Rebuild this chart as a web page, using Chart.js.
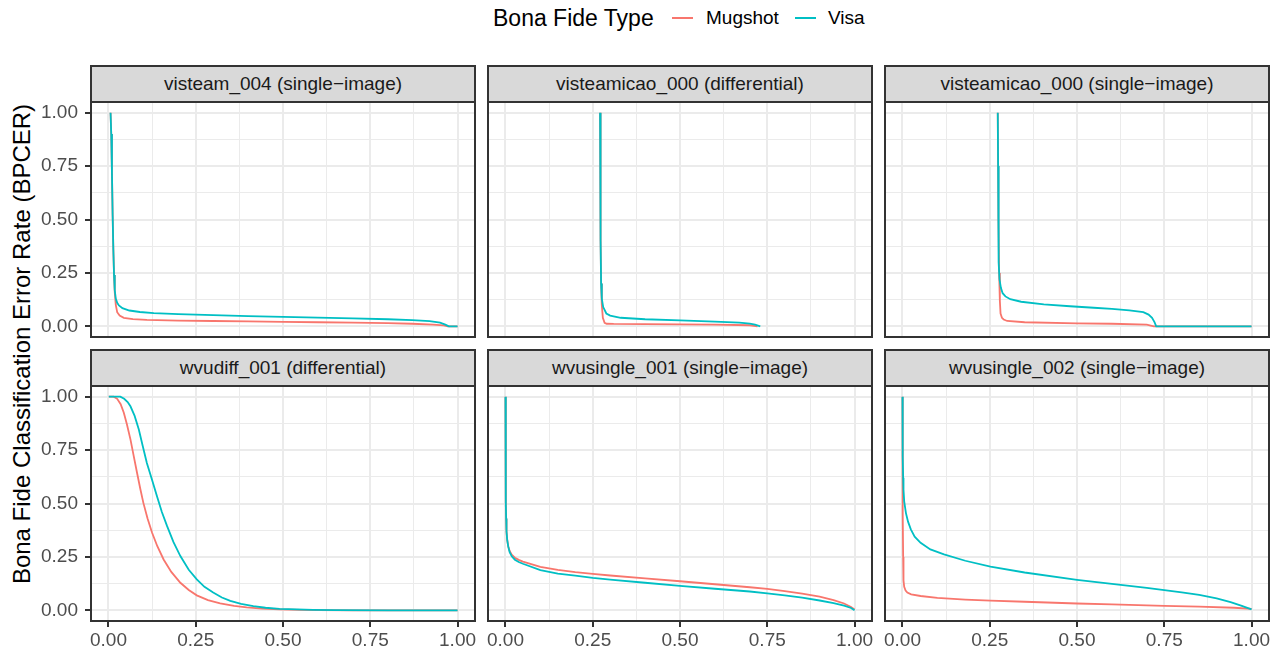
<!DOCTYPE html>
<html lang="en">
<head>
<meta charset="UTF-8">
<title>BPCER by bona fide type</title>
<script src="https://cdn.jsdelivr.net/npm/chart.js@4"></script>
<style>
  html, body { margin: 0; padding: 0; overflow: hidden; background: #ffffff; }
  body { font-family: 'Liberation Sans', Arial, sans-serif; }
  #page { position: relative; width: 1282px; height: 654px; overflow: hidden; }
  .strip {
    position: absolute;
    box-sizing: border-box;
    background: #d9d9d9;
    border: 2px solid #333333;
    color: #1a1a1a;
    font-size: 19px;
    line-height: 34px;
    text-align: center;
    white-space: nowrap;
  }
  .panel { position: absolute; }
  .legend-text { position: absolute; top: 4px; line-height: 28px; color: #000000; white-space: nowrap; }
  .legend-key { position: absolute; top: 17px; width: 21px; height: 2px; }
  #ytitle {
    position: absolute;
    left: -278px; top: 329px;
    width: 600px; height: 30px; line-height: 30px;
    text-align: center;
    font-size: 24px;
    color: #000000;
    transform: rotate(-90deg);
    white-space: nowrap;
  }
</style>
</head>
<body>
<div id="page">
  <span class="legend-text" style="left:493px; font-size:23px;">Bona Fide Type</span>
  <div class="legend-key" style="left:672px; background:#F8766D;"></div>
  <span class="legend-text" style="left:706px; font-size:19px;">Mugshot</span>
  <div class="legend-key" style="left:795px; background:#00BFC4;"></div>
  <span class="legend-text" style="left:828px; font-size:19px;">Visa</span>
  <div id="ytitle">Bona Fide Classification Error Rate (BPCER)</div>
</div>
<script>
// facet titles, row by row
const panelTitles = [
  'visteam_004 (single\u2212image)',
  'visteamicao_000 (differential)',
  'visteamicao_000 (single\u2212image)',
  'wvudiff_001 (differential)',
  'wvusingle_001 (single\u2212image)',
  'wvusingle_002 (single\u2212image)'
];

// axis ticks (same on x and y); majors get labels, minors only gridlines
const tickValues = [0, 0.125, 0.25, 0.375, 0.5, 0.625, 0.75, 0.875, 1];
const tickLabels = ['0.00', '', '0.25', '', '0.50', '', '0.75', '', '1.00'];

// visteam_004 (single-image)
const p1MugX = [0.006, 0.008, 0.010, 0.012, 0.014, 0.016, 0.018, 0.021, 0.025, 0.032, 0.044, 0.07, 0.11, 0.2, 0.3, 0.4, 0.5, 0.6, 0.7, 0.8, 0.87, 0.93, 0.96, 0.972, 1.0];
const p1MugY = [1.0, 0.9, 0.72, 0.52, 0.36, 0.24, 0.16, 0.1, 0.066, 0.05, 0.04, 0.034, 0.030, 0.027, 0.025, 0.023, 0.021, 0.019, 0.017, 0.015, 0.012, 0.008, 0.004, 0.0, 0.0];
const p1VisaX = [0.006, 0.008, 0.010, 0.012, 0.014, 0.016, 0.018, 0.021, 0.025, 0.03, 0.04, 0.06, 0.09, 0.13, 0.2, 0.3, 0.4, 0.5, 0.6, 0.7, 0.8, 0.87, 0.92, 0.95, 0.965, 0.975, 1.0];
const p1VisaY = [1.0, 0.9, 0.72, 0.52, 0.36, 0.24, 0.17, 0.13, 0.11, 0.098, 0.085, 0.074, 0.067, 0.062, 0.057, 0.052, 0.048, 0.044, 0.041, 0.037, 0.033, 0.029, 0.024, 0.017, 0.008, 0.0, 0.0];

// visteamicao_000 (differential)
const p2MugX = [0.271, 0.272, 0.273, 0.274, 0.276, 0.279, 0.284, 0.29, 0.31, 0.4, 0.5, 0.6, 0.7, 0.722];
const p2MugY = [1.0, 0.7, 0.4, 0.2, 0.1, 0.04, 0.016, 0.012, 0.011, 0.010, 0.009, 0.008, 0.005, 0.0];
const p2VisaX = [0.271, 0.272, 0.273, 0.274, 0.276, 0.280, 0.289, 0.30, 0.33, 0.4, 0.5, 0.6, 0.67, 0.7, 0.715, 0.73];
const p2VisaY = [1.0, 0.7, 0.4, 0.2, 0.13, 0.09, 0.06, 0.05, 0.04, 0.033, 0.028, 0.022, 0.017, 0.013, 0.008, 0.0];

// visteamicao_000 (single-image)
const p3MugX = [0.273, 0.274, 0.275, 0.277, 0.279, 0.281, 0.285, 0.29, 0.3, 0.35, 0.5, 0.6, 0.7, 0.72, 0.8, 1.0];
const p3MugY = [1.0, 0.75, 0.5, 0.25, 0.12, 0.06, 0.04, 0.032, 0.025, 0.019, 0.014, 0.012, 0.008, 0.0, 0.0, 0.0];
const p3VisaX = [0.273, 0.274, 0.275, 0.276, 0.278, 0.282, 0.287, 0.295, 0.309, 0.34, 0.405, 0.48, 0.548, 0.6, 0.65, 0.69, 0.705, 0.715, 0.722, 0.727, 0.8, 0.9, 1.0];
const p3VisaY = [1.0, 0.75, 0.5, 0.3, 0.22, 0.18, 0.155, 0.14, 0.127, 0.115, 0.103, 0.094, 0.087, 0.082, 0.075, 0.066, 0.055, 0.04, 0.02, 0.0, 0.0, 0.0, 0.0];

// wvudiff_001 (differential)
const p4MugX = [0.001, 0.015, 0.025, 0.035, 0.044, 0.053, 0.063, 0.072, 0.082, 0.091, 0.10, 0.112, 0.125, 0.14, 0.158, 0.18, 0.206, 0.23, 0.253, 0.285, 0.32, 0.36, 0.396, 0.44, 0.49, 0.55, 0.6, 0.7, 0.8, 0.9, 1.0];
const p4MugY = [1.0, 1.0, 0.99, 0.965, 0.925, 0.87, 0.80, 0.725, 0.643, 0.57, 0.503, 0.43, 0.363, 0.30, 0.238, 0.18, 0.129, 0.095, 0.07, 0.048, 0.033, 0.021, 0.014, 0.008, 0.004, 0.002, 0.001, 0, 0, 0, 0];
const p4VisaX = [0.001, 0.02, 0.034, 0.045, 0.055, 0.063, 0.075, 0.087, 0.098, 0.11, 0.125, 0.139, 0.153, 0.168, 0.186, 0.206, 0.23, 0.253, 0.275, 0.30, 0.325, 0.349, 0.38, 0.415, 0.45, 0.49, 0.54, 0.586, 0.65, 0.8, 1.0];
const p4VisaY = [1.0, 1.0, 1.0, 0.99, 0.975, 0.955, 0.91, 0.846, 0.77, 0.69, 0.61, 0.534, 0.46, 0.394, 0.32, 0.254, 0.19, 0.145, 0.11, 0.083, 0.06, 0.044, 0.03, 0.02, 0.012, 0.007, 0.004, 0.002, 0.001, 0, 0];

// wvusingle_001 (single-image)
const p5MugX = [0, 0.0005, 0.001, 0.0015, 0.002, 0.003, 0.005, 0.008, 0.012, 0.018, 0.027, 0.038, 0.05, 0.1, 0.15, 0.2, 0.25, 0.3, 0.4, 0.5, 0.6, 0.7, 0.75, 0.8, 0.85, 0.9, 0.94, 0.97, 0.99, 1.0];
const p5MugY = [1.0, 0.8, 0.62, 0.5, 0.43, 0.37, 0.33, 0.3, 0.278, 0.26, 0.246, 0.236, 0.228, 0.203, 0.189, 0.179, 0.171, 0.163, 0.150, 0.136, 0.122, 0.108, 0.100, 0.090, 0.078, 0.064, 0.048, 0.032, 0.016, 0.004];
const p5VisaX = [0, 0.0005, 0.001, 0.0015, 0.002, 0.003, 0.005, 0.008, 0.012, 0.018, 0.027, 0.038, 0.05, 0.1, 0.15, 0.2, 0.25, 0.3, 0.4, 0.5, 0.6, 0.7, 0.75, 0.8, 0.85, 0.9, 0.94, 0.97, 0.99, 1.0];
const p5VisaY = [1.0, 0.8, 0.62, 0.5, 0.43, 0.37, 0.33, 0.298, 0.272, 0.253, 0.237, 0.226, 0.218, 0.188, 0.172, 0.162, 0.152, 0.144, 0.129, 0.114, 0.101, 0.088, 0.079, 0.070, 0.059, 0.046, 0.034, 0.022, 0.011, 0.0];

// wvusingle_002 (single-image)
const p6MugX = [0, 0.0005, 0.001, 0.002, 0.003, 0.005, 0.009, 0.014, 0.025, 0.052, 0.1, 0.18, 0.252, 0.35, 0.5, 0.6, 0.75, 0.85, 0.95, 1.0];
const p6MugY = [1.0, 0.7, 0.45, 0.25, 0.14, 0.11, 0.093, 0.083, 0.075, 0.067, 0.058, 0.05, 0.045, 0.04, 0.032, 0.028, 0.021, 0.017, 0.012, 0.007];
const p6VisaX = [0, 0.0005, 0.001, 0.002, 0.003, 0.005, 0.01, 0.016, 0.024, 0.035, 0.052, 0.08, 0.119, 0.18, 0.252, 0.35, 0.5, 0.6, 0.7, 0.75, 0.8, 0.85, 0.9, 0.94, 0.97, 0.99, 1.0];
const p6VisaY = [1.0, 0.85, 0.72, 0.62, 0.565, 0.51, 0.455, 0.415, 0.379, 0.345, 0.316, 0.285, 0.262, 0.232, 0.204, 0.177, 0.143, 0.124, 0.105, 0.095, 0.084, 0.072, 0.056, 0.038, 0.022, 0.01, 0.004];

const mugshotColor = '#F8766D';
const visaColor = '#00BFC4';

const series = [
  [p1MugX, p1MugY, p1VisaX, p1VisaY],
  [p2MugX, p2MugY, p2VisaX, p2VisaY],
  [p3MugX, p3MugY, p3VisaX, p3VisaY],
  [p4MugX, p4MugY, p4VisaX, p4VisaY],
  [p5MugX, p5MugY, p5VisaX, p5VisaY],
  [p6MugX, p6MugY, p6VisaX, p6VisaY]
];

// panel geometry (plot area, page pixels)
const colLeft = [91, 488, 885];
const rowTop = [102, 386];
const plotW = 384, plotH = 235, stripH = 38;
const M = 26;        // spare margin round each canvas, bigger than any label overflow
const yAxisW = 80;   // room for y tick labels on the left column
const xAxisH = 30;   // room for x tick labels on the bottom row
const FONT = "'Liberation Sans', Arial, sans-serif";

function toPoints(xs, ys) {
  return xs.map((x, i) => ({ x: x, y: ys[i] }));
}

const panelBorder = {
  id: 'panelBorder',
  afterDraw(chart) {
    const a = chart.chartArea, c = chart.ctx;
    c.save();
    c.strokeStyle = '#333333';
    c.lineWidth = 2;
    c.strokeRect(a.left, a.top, a.right - a.left, a.bottom - a.top);
    c.restore();
  }
};

function axisOptions(showLabels, isX, fitSize) {
  return {
    type: 'linear',
    position: isX ? 'bottom' : 'left',
    min: -0.05,
    max: 1.05,
    afterBuildTicks: s => { s.ticks = tickValues.map(v => ({ value: v })); },
    afterFit: s => { if (isX) s.height = fitSize; else s.width = fitSize; },
    border: { display: false },
    grid: {
      color: '#ebebeb',
      lineWidth: ctx => (ctx.index % 2 === 0 ? 2 : 1),
      drawTicks: showLabels,
      tickLength: 6,
      tickWidth: 2,
      tickColor: ctx => (ctx.index % 2 === 0 ? '#333333' : 'rgba(0,0,0,0)')
    },
    ticks: {
      display: showLabels,
      autoSkip: false,
      maxRotation: 0,
      minRotation: 0,
      padding: isX ? 2 : 7,
      color: '#4d4d4d',
      font: { family: FONT, size: 19 },
      callback: (v, i) => tickLabels[i]
    }
  };
}

const page = document.getElementById('page');

panelTitles.forEach((title, p) => {
  const r = Math.floor(p / 3), c = p % 3;
  const left = colLeft[c], top = rowTop[r];

  const strip = document.createElement('div');
  strip.className = 'strip';
  strip.style.left = (left - 1) + 'px';
  strip.style.top = (top - stripH + 1) + 'px';
  strip.style.width = (plotW + 2) + 'px';
  strip.style.height = stripH + 'px';
  strip.textContent = title;
  page.appendChild(strip);

  const yW = c === 0 ? yAxisW : 0;
  const xH = r === 1 ? xAxisH : 0;
  const cv = document.createElement('canvas');
  cv.className = 'panel';
  const w = M + yW + plotW + M, h = M + plotH + xH + M;
  cv.width = w; cv.height = h;
  cv.style.width = w + 'px'; cv.style.height = h + 'px';
  cv.style.left = (left - yW - M) + 'px';
  cv.style.top = (top - M) + 'px';
  page.appendChild(cv);

  const s = series[p];
  new Chart(cv.getContext('2d'), {
    type: 'scatter',
    data: {
      datasets: [
        { label: 'Mugshot', data: toPoints(s[0], s[1]), borderColor: mugshotColor, order: 1 },
        { label: 'Visa', data: toPoints(s[2], s[3]), borderColor: visaColor, order: 0 }
      ]
    },
    options: {
      responsive: false,
      animation: false,
      devicePixelRatio: 1,
      layout: { padding: M },
      datasets: {
        scatter: { showLine: true, pointRadius: 0, borderWidth: 1.8, tension: 0, fill: false }
      },
      plugins: { legend: { display: false }, tooltip: { enabled: false } },
      scales: {
        x: axisOptions(r === 1, true, xH),
        y: axisOptions(c === 0, false, yW)
      }
    },
    plugins: [panelBorder]
  });
});
</script>
</body>
</html>
